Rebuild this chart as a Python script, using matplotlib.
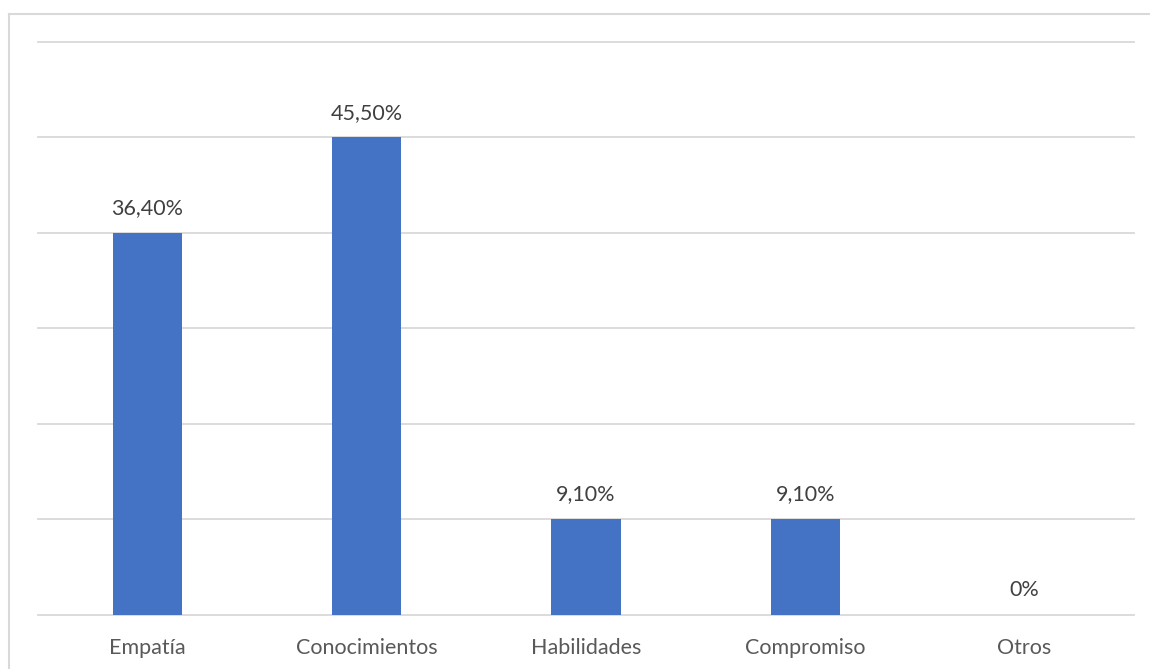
import matplotlib
matplotlib.use("Agg")
import matplotlib.pyplot as plt
from matplotlib.lines import Line2D

categories = ["Empatía", "Conocimientos", "Habilidades", "Compromiso", "Otros"]
values = [36.4, 45.5, 9.1, 9.1, 0.0]
value_labels = ["36,40%", "45,50%", "9,10%", "9,10%", "0%"]
grid_step = 9.1
n_grid = 6

W, H = 1150, 669
fig = plt.figure(figsize=(W / 100, H / 100), dpi=100)
plt.rcParams["font.family"] = ["Lato", "DejaVu Sans"]

# chart frame: only the left and top edges fall inside the image
frame = dict(transform=fig.transFigure, color="#D9D9D9", linewidth=1.5)
fig.lines.append(Line2D([8.5 / W, 8.5 / W], [0, 1 - 13.5 / H], **frame))
fig.lines.append(Line2D([8.5 / W, 1], [1 - 13.5 / H, 1 - 13.5 / H], **frame))

ax = fig.add_axes([38 / W, 1 - 614.5 / H, (1134 - 38) / W, (614.5 - 42) / H])
x = range(len(categories))
ax.bar(x, values, width=0.315, color="#4472C4", zorder=3)

for xi, v, lab in zip(x, values, value_labels):
    ax.annotate(lab, (xi, v), xytext=(0, 10.5), textcoords="offset points",
                ha="center", va="bottom", fontsize=15.5, color="#404040")

ax.set_xlim(-0.5, len(categories) - 0.5)
ax.set_ylim(0, grid_step * n_grid)
for k in range(n_grid + 1):
    ax.axhline(k * grid_step, color="#D9D9D9", linewidth=1.3, zorder=1,
               clip_on=False)

ax.set_xticks(list(x))
ax.set_xticklabels(categories, fontsize=15.5, color="#595959")
ax.tick_params(axis="x", length=0, pad=17)
ax.set_yticks([])
for s in ax.spines.values():
    s.set_visible(False)

fig.savefig("out.png", dpi=100)
